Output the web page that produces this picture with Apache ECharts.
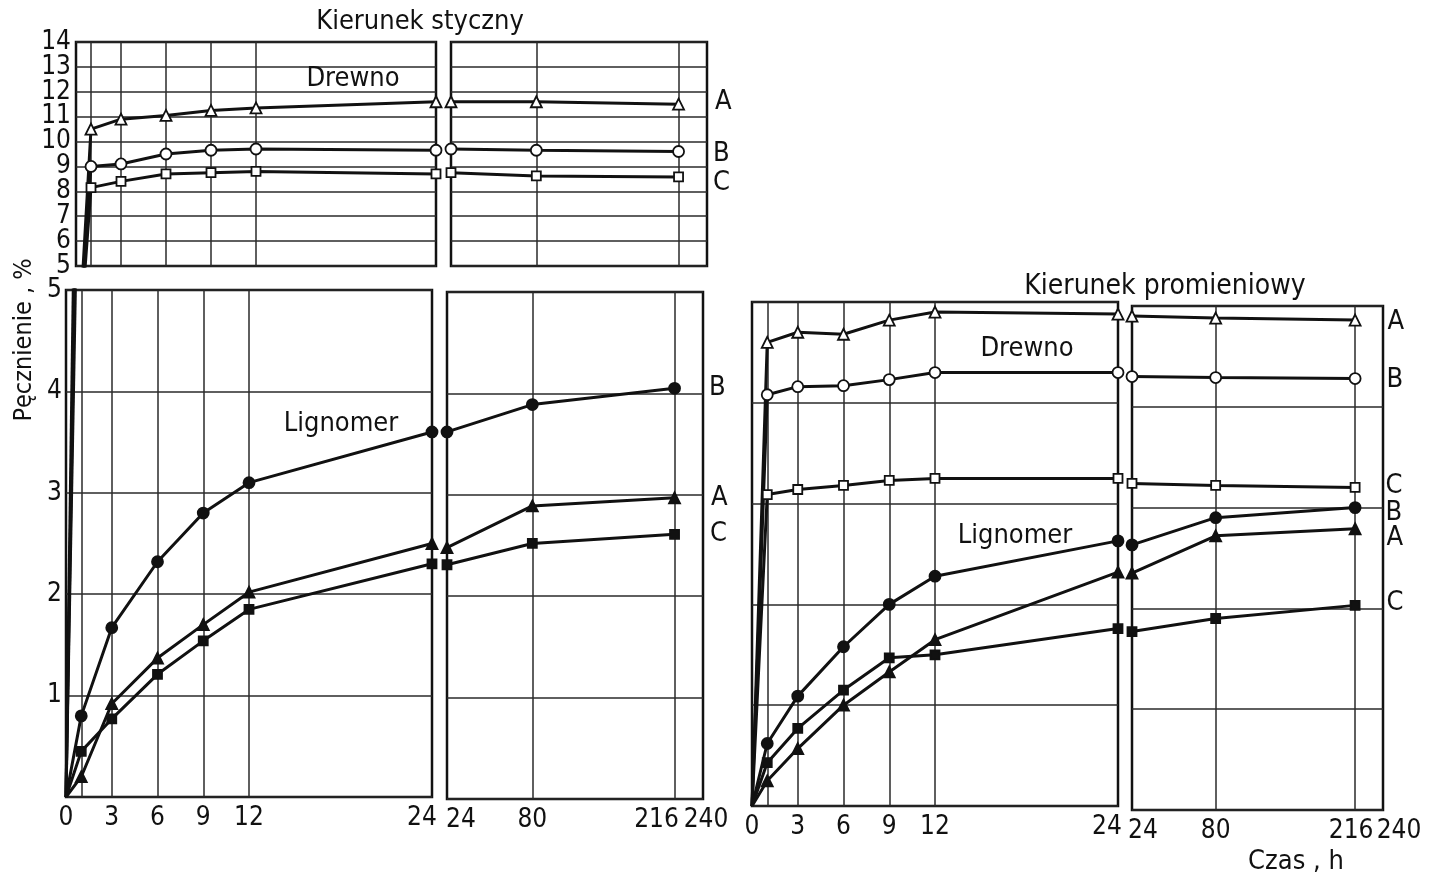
<!DOCTYPE html>
<html>
<head>
<meta charset="utf-8">
<script src="https://cdn.jsdelivr.net/npm/echarts@6/dist/echarts.min.js"></script>
<style>html,body{margin:0;padding:0;background:#fff;}#c{width:1434px;height:879px;}</style>
</head>
<body>
<div id="c"></div>
<script>
// ---- data ----
const tLeft = [0, 1, 3, 6, 9, 12, 24];            // hours, linear part of time axis
const tRight = ['24', '80', '216'];               // hours, compressed part
const rightSlots = ['24', '', '', '80', '', '', '', '', '216', '240'];
const xLabelsLeft = [0, 3, 6, 9, 12, 24];
const xGridLeft = [1, 3, 6, 9, 12];
const xGridRight = ['80', '216'];
const yLabelsTopEven = [6, 8, 10, 12, 14];
const yLabelsTopOdd = [5, 7, 9, 11, 13];

// Kierunek styczny – Drewno
const stDrewnoA_L = [0, 10.5, 10.9, 11.05, 11.25, 11.35, 11.6];
const stDrewnoA_R = [11.6, 11.6, 11.5];
const stDrewnoB_L = [0, 9.0, 9.1, 9.5, 9.65, 9.7, 9.65];
const stDrewnoB_R = [9.7, 9.65, 9.6];
const stDrewnoC_L = [0, 8.15, 8.4, 8.7, 8.75, 8.8, 8.7];
const stDrewnoC_R = [8.75, 8.62, 8.58];
// Kierunek styczny – Lignomer
const stLigA_L = [0, 0.2, 0.92, 1.37, 1.7, 2.02, 2.5];
const stLigA_R = [2.48, 2.89, 2.97];
const stLigB_L = [0, 0.8, 1.67, 2.32, 2.8, 3.1, 3.6];
const stLigB_R = [3.62, 3.89, 4.05];
const stLigC_L = [0, 0.45, 0.77, 1.21, 1.54, 1.85, 2.3];
const stLigC_R = [2.31, 2.52, 2.61];
// Kierunek promieniowy – Drewno
const prDrewnoA_L = [0, 4.6, 4.7, 4.68, 4.82, 4.9, 4.88];
const prDrewnoA_R = [4.9, 4.88, 4.86];
const prDrewnoB_L = [0, 4.08, 4.16, 4.17, 4.23, 4.3, 4.3];
const prDrewnoB_R = [4.3, 4.29, 4.28];
const prDrewnoC_L = [0, 3.09, 3.14, 3.18, 3.23, 3.25, 3.25];
const prDrewnoC_R = [3.24, 3.22, 3.2];
// Kierunek promieniowy – Lignomer
const prLigA_L = [0, 0.25, 0.57, 1.0, 1.33, 1.65, 2.32];
const prLigA_R = [2.35, 2.72, 2.79];
const prLigB_L = [0, 0.62, 1.09, 1.58, 2.0, 2.28, 2.63];
const prLigB_R = [2.63, 2.9, 3.0];
const prLigC_L = [0, 0.43, 0.77, 1.15, 1.47, 1.5, 1.76];
const prLigC_R = [1.77, 1.9, 2.03];

// ---- styling ----
const FONT = "'DejaVu Sans Condensed', 'DejaVu Sans'";
const INK = '#111';
const GRIDC = '#2a2a2a';
const TICK_FS = 26;

const chart = echarts.init(document.getElementById('c'), null, {renderer: 'canvas'});

const grids = [
  {left: 76, top: 42, width: 360, height: 224},    // 0 styczny drewno 0-24
  {left: 451, top: 42, width: 256, height: 224},   // 1 styczny drewno 24-240
  {left: 66, top: 290, width: 366, height: 507},   // 2 styczny lignomer 0-24
  {left: 447, top: 292, width: 256, height: 507},  // 3 styczny lignomer 24-240
  {left: 752, top: 302, width: 366, height: 504},  // 4 promieniowy 0-24
  {left: 1132, top: 306, width: 251, height: 504}  // 5 promieniowy 24-240
].map(g => Object.assign({show: true, borderColor: INK, borderWidth: 2.5, backgroundColor: 'transparent'}, g));

const labelFont = {fontFamily: FONT, fontSize: TICK_FS, color: INK};
function shiftRich(padL, padR) {
  return Object.assign({padding: [0, padR, 0, padL]}, labelFont);
}

function leftX(gridIndex, showLabels, shiftLast) {
  return {
    type: 'value', gridIndex, min: 0, max: 24,
    axisLine: {show: false},
    axisTick: {show: false, customValues: xGridLeft},
    splitLine: {show: true, lineStyle: {color: GRIDC, width: 1.5}},
    axisLabel: {
      show: showLabels, customValues: xLabelsLeft, margin: 8, hideOverlap: false,
      fontFamily: FONT, fontSize: TICK_FS, color: INK,
      formatter: v => v === 24 ? '{s|24}' : String(v),
      rich: {s: shiftRich(0, shiftLast)}
    }
  };
}
function rightX(gridIndex, showLabels, sh) {
  return {
    type: 'category', gridIndex, data: rightSlots, boundaryGap: false,
    axisLine: {show: false},
    axisTick: {show: false},
    splitLine: {show: true, interval: (i) => xGridRight.indexOf(rightSlots[i]) >= 0,
                lineStyle: {color: GRIDC, width: 1.5}},
    axisLabel: {
      show: showLabels, margin: 8, interval: 0, hideOverlap: false,
      fontFamily: FONT, fontSize: TICK_FS, color: INK,
      formatter: (v) => v === '' ? '' : '{' + (sh[v] ? 'k' + v : 'n') + '|' + v + '}',
      rich: Object.assign({n: Object.assign({}, labelFont)},
        Object.fromEntries(Object.keys(sh).map(k => ['k' + k, shiftRich(sh[k][0], sh[k][1])])))
    }
  };
}
function yAx(gridIndex, min, max, showLabels, margin, custom, noSplit) {
  const ax = {
    type: 'value', gridIndex, min, max, interval: 1, position: 'left',
    axisLine: {show: false}, axisTick: {show: false},
    splitLine: {show: !noSplit, lineStyle: {color: GRIDC, width: 1.5}},
    axisLabel: {show: showLabels, margin: margin || 4, fontFamily: FONT, fontSize: TICK_FS, color: INK,
      hideOverlap: false,
      formatter: v => (min === 0 && v === 0) ? '' : String(v)}
  };
  if (custom) ax.axisLabel.customValues = custom;
  return ax;
}

const xAxes = [
  leftX(0, false, 0),
  rightX(1, false, {}),
  leftX(2, true, 20),
  rightX(3, true, {'24': [28, 0], '216': [0, 36], '240': [6, 0]}),
  leftX(4, true, 22),
  rightX(5, true, {'24': [22, 0], '216': [0, 8], '240': [32, 0]})
];
const yAxes = [
  yAx(0, 5, 14, true, 5, yLabelsTopEven), yAx(1, 5, 14, false),
  yAx(2, 0, 5, true, 4), yAx(3, 0, 5, false),
  yAx(4, 0, 5, false), yAx(5, 0, 5, false),
  yAx(0, 5, 14, true, 5, yLabelsTopOdd, true)   // second label set for the top panel
];

// symbols
const SYM = {A: ['triangle', 11], B: ['circle', 11], C: ['rect', 9]};

function leftData(vals, n) {
  const arr = tLeft.map((t, i) => i === 0 ? {value: [t, vals[i]], symbol: 'none'} : [t, vals[i]]);
  return n ? arr.slice(0, n) : arr;
}
function rightData(vals, letter, dist, dy) {
  return tRight.map((t, i) => {
    const item = {value: [rightSlots.indexOf(t), vals[i]]};
    if (i === tRight.length - 1 && letter) {
      item.label = {show: true, position: 'right', distance: dist, offset: [0, dy || 0],
        formatter: letter, fontFamily: FONT, fontSize: 27, color: INK};
    }
    return item;
  });
}
function ser(grid, data, letter, filled, opts) {
  opts = opts || {};
  return {
    type: 'line', xAxisIndex: grid, yAxisIndex: grid, data,
    symbol: opts.noSymbol ? 'none' : SYM[letter][0],
    symbolSize: SYM[letter][1],
    showAllSymbol: true,
    lineStyle: {color: INK, width: 3},
    itemStyle: {color: filled ? INK : '#fff', borderColor: INK, borderWidth: 1.8},
    clip: true, z: 3, silent: true
  };
}

const series = [
  // styczny drewno
  ser(0, leftData(stDrewnoA_L), 'A', false),
  ser(0, leftData(stDrewnoB_L), 'B', false),
  ser(0, leftData(stDrewnoC_L), 'C', false),
  ser(1, rightData(stDrewnoA_R, 'A', 30, -2), 'A', false),
  ser(1, rightData(stDrewnoB_R, 'B', 28, 2), 'B', false),
  ser(1, rightData(stDrewnoC_R, 'C', 29, 6), 'C', false),
  // drewno rise through lower panel
  ser(2, leftData(stDrewnoA_L, 2), 'A', false, {noSymbol: true}),
  ser(2, leftData(stDrewnoB_L, 2), 'B', false, {noSymbol: true}),
  ser(2, leftData(stDrewnoC_L, 2), 'C', false, {noSymbol: true}),
  // styczny lignomer
  ser(2, leftData(stLigA_L), 'A', true),
  ser(2, leftData(stLigB_L), 'B', true),
  ser(2, leftData(stLigC_L), 'C', true),
  ser(3, rightData(stLigA_R, 'A', 30, 0), 'A', true),
  ser(3, rightData(stLigB_R, 'B', 28, 0), 'B', true),
  ser(3, rightData(stLigC_R, 'C', 30, 0), 'C', true),
  // promieniowy drewno
  ser(4, leftData(prDrewnoA_L), 'A', false),
  ser(4, leftData(prDrewnoB_L), 'B', false),
  ser(4, leftData(prDrewnoC_L), 'C', false),
  ser(5, rightData(prDrewnoA_R, 'A', 26, 2), 'A', false),
  ser(5, rightData(prDrewnoB_R, 'B', 25, 1), 'B', false),
  ser(5, rightData(prDrewnoC_R, 'C', 25, -1), 'C', false),
  // promieniowy lignomer
  ser(4, leftData(prLigA_L), 'A', true),
  ser(4, leftData(prLigB_L), 'B', true),
  ser(4, leftData(prLigC_L), 'C', true),
  ser(5, rightData(prLigA_R, 'A', 25, 9), 'A', true),
  ser(5, rightData(prLigB_R, 'B', 24, 5), 'B', true),
  ser(5, rightData(prLigC_R, 'C', 26, -2), 'C', true)
];

function txt(text, x, y, size, extra) {
  return Object.assign({
    type: 'text', x, y, silent: true, z: 10,
    style: {text, fontFamily: FONT, fontSize: size, fill: INK, align: 'center', verticalAlign: 'middle'}
  }, extra || {});
}

const graphic = [
  txt('Kierunek styczny', 420, 22, 27),
  txt('Kierunek promieniowy', 1165, 287, 28),
  txt('Drewno', 353, 79, 27),
  txt('Lignomer', 341, 424, 27),
  txt('Drewno', 1027, 349, 27),
  txt('Lignomer', 1015, 536, 27),
  txt('Czas , h', 1296, 862, 27),
  txt('Pęcznienie , %', 24, 340, 25, {rotation: Math.PI / 2})
];

chart.setOption({
  animation: false,
  backgroundColor: '#fff',
  grid: grids,
  xAxis: xAxes,
  yAxis: yAxes,
  series,
  graphic
});
</script>
</body>
</html>
